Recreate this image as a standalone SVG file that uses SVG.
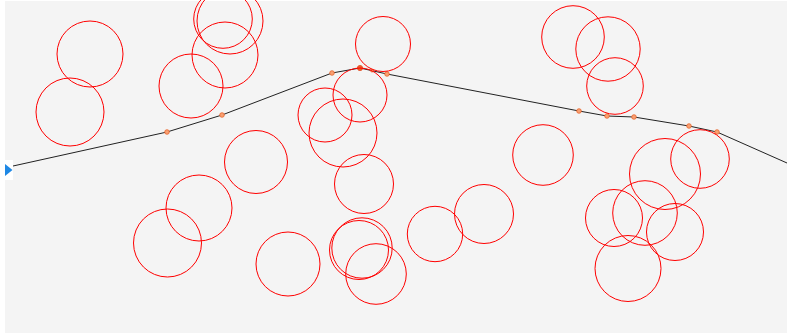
<svg xmlns="http://www.w3.org/2000/svg" width="787" height="335" viewBox="0 0 787 335">
<style>
.c{fill:none;stroke:#ff0000;stroke-width:1}
.ln{fill:none;stroke:#222;stroke-width:1}
.d{fill:#f7a073;stroke:#e8632a;stroke-width:0.8}
</style>
<rect x="0" y="0" width="787" height="335" fill="#ffffff"/>
<rect x="5" y="1" width="782" height="332" fill="#f4f4f4"/>
<g id="connectors">
<polyline class="ln" points="13,166 167,132 222,115 332,73 360,68 387,74 579,111 607,116 634,117 689,126 717,132 787,163"/>
</g>
<g id="start-marker">
<rect x="5" y="160" width="8" height="20" fill="#ffffff"/>
<polygon points="5,164 12.5,170 5,176" fill="#1e88e5"/>
</g>
<g id="waypoints">
<circle class="d" cx="167" cy="132" r="2.3"/>
<circle class="d" cx="222" cy="115" r="2.3"/>
<circle class="d" cx="332" cy="73" r="2.3"/>
<circle cx="360" cy="68" r="2.6" fill="#f0602a" stroke="#e04a20" stroke-width="0.8"/>
<circle class="d" cx="372" cy="70.5" r="1.5"/>
<circle class="d" cx="387" cy="74" r="2.3"/>
<circle class="d" cx="579" cy="111" r="2.3"/>
<circle class="d" cx="607" cy="116" r="2.3"/>
<circle class="d" cx="634" cy="117" r="2.3"/>
<circle class="d" cx="689" cy="126" r="2.3"/>
<circle class="d" cx="717" cy="132" r="2.3"/>
</g>
<g id="circles">
<circle id="n1" class="c" cx="90" cy="54" r="33"/>
<circle id="n2" class="c" cx="70" cy="112" r="34"/>
<circle id="n3" class="c" cx="191" cy="86" r="32"/>
<circle id="n4" class="c" cx="225" cy="55" r="33"/>
<circle id="n5" class="c" cx="223" cy="19" r="29.3"/>
<circle id="n6" class="c" cx="230" cy="21" r="33"/>
<circle id="n7" class="c" cx="256" cy="162" r="31.5"/>
<circle id="n8" class="c" cx="199" cy="208" r="33"/>
<circle id="n9" class="c" cx="167.5" cy="243" r="34"/>
<circle id="n10" class="c" cx="288" cy="264" r="32"/>
<circle id="n11" class="c" cx="383" cy="44" r="27.5"/>
<circle id="n12" class="c" cx="360" cy="95" r="27"/>
<circle id="n13" class="c" cx="325" cy="115" r="27"/>
<circle id="n14" class="c" cx="343" cy="133" r="34"/>
<circle id="n15" class="c" cx="364" cy="184" r="29.5"/>
<circle id="n16" class="c" cx="543" cy="155" r="30.3"/>
<circle id="n17" class="c" cx="435" cy="234" r="27.7"/>
<circle id="n18" class="c" cx="484" cy="214" r="29.5"/>
<circle id="n19" class="c" cx="359" cy="250" r="29.5"/>
<circle id="n20" class="c" cx="362" cy="248" r="30.2"/>
<circle id="n21" class="c" cx="376" cy="274" r="30.3"/>
<circle id="n22" class="c" cx="573" cy="37" r="31.3"/>
<circle id="n23" class="c" cx="608" cy="49" r="32.2"/>
<circle id="n24" class="c" cx="615" cy="86" r="28.3"/>
<circle id="n25" class="c" cx="700" cy="159" r="29.3"/>
<circle id="n26" class="c" cx="665" cy="174" r="35.5"/>
<circle id="n27" class="c" cx="614" cy="218" r="28.5"/>
<circle id="n28" class="c" cx="645" cy="213" r="32.3"/>
<circle id="n29" class="c" cx="675" cy="232" r="28.5"/>
<circle id="n30" class="c" cx="628" cy="268.5" r="33"/>
</g>
</svg>
